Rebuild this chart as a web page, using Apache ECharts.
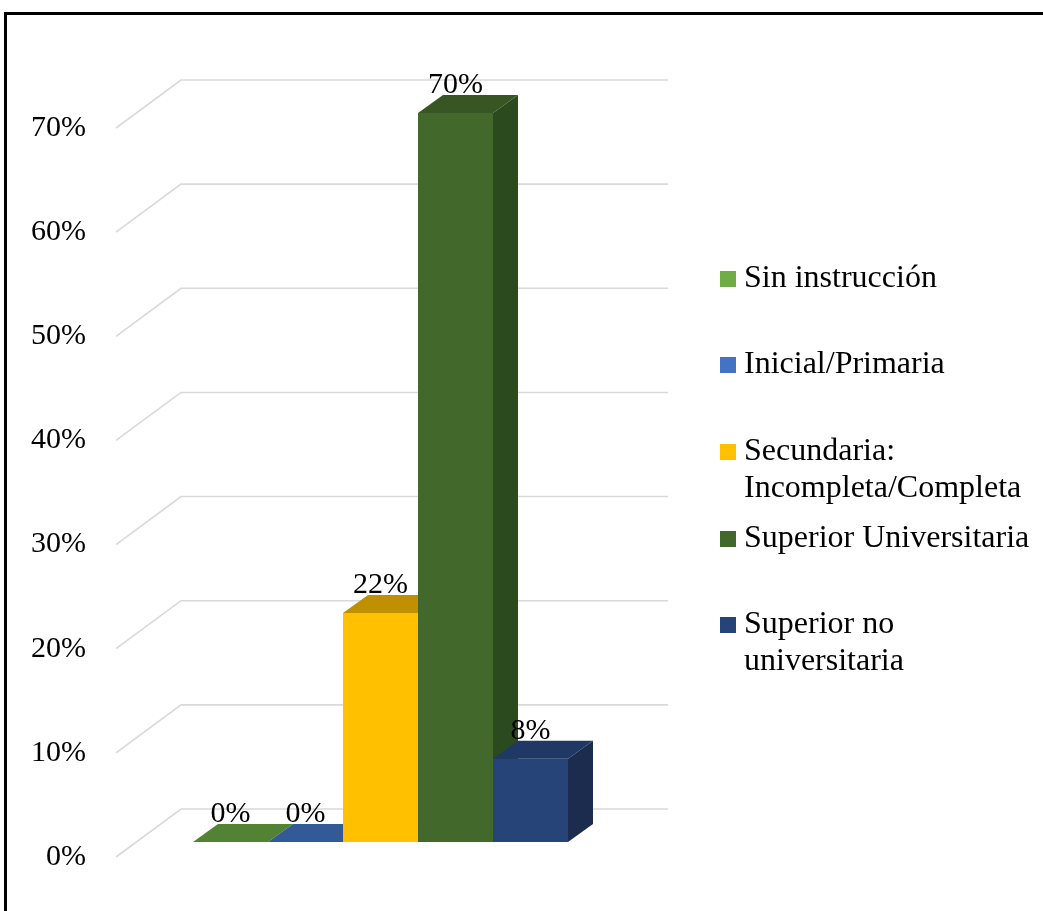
<!DOCTYPE html>
<html>
<head>
<meta charset="utf-8">
<script src="https://cdn.jsdelivr.net/npm/echarts@6/dist/echarts.min.js"></script>
<style>
  html, body { margin: 0; padding: 0; background: #fff; }
  #chart { width: 1043px; height: 911px; }
</style>
</head>
<body>
<div id="chart"></div>
<script>
// Nivel de instrucción: share of respondents per category
const categories = [
  'Sin instrucción',
  'Inicial/Primaria',
  'Secundaria:\nIncompleta/Completa',
  'Superior Universitaria',
  'Superior no\nuniversitaria'
];
const values = [0, 0, 0.22, 0.70, 0.08];
const gridTicks = [0, 0.1, 0.2, 0.3, 0.4, 0.5, 0.6, 0.7];

// Face shading for each 3D column: front, top, right side
const palette = [
  { front: '#70AD47', top: '#548235', side: '#4B7532' },
  { front: '#4472C4', top: '#335A96', side: '#2E5188' },
  { front: '#FFC000', top: '#BF9000', side: '#A67D00' },
  { front: '#43682B', top: '#375623', side: '#2B4A1D' },
  { front: '#264478', top: '#1F3864', side: '#1B2C4F' }
];

const FONT = "'Liberation Serif', 'Times New Roman', serif";
const DEPTH = [25, -18];        // column depth offset
const WALL_BACK = [-12, -33];   // back wall relative to the column front plane
const WALL_FRONT = [-77, 15];   // front edge of the side wall
const WALL_RIGHT = 475;         // right end of back-wall lines from plot left

const pct = v => Math.round(v * 100) + '%';

const chart = echarts.init(document.getElementById('chart'), null, { renderer: 'canvas' });

// Perspective gridlines: side-wall diagonal then back-wall horizontal
const gridSeries = {
  type: 'custom',
  name: '__grid',
  xAxisIndex: 0,
  yAxisIndex: 0,
  clip: false,
  silent: true,
  z: 1,
  data: gridTicks.map(v => [0, v]),
  renderItem: function (params, api) {
    const p = api.coord([0, api.value(1)]);
    const band = api.size([1, 0])[0];
    const xL = p[0] - band / 2;
    return {
      type: 'polyline',
      shape: {
        points: [
          [xL + WALL_FRONT[0], p[1] + WALL_FRONT[1]],
          [xL + WALL_BACK[0], p[1] + WALL_BACK[1]],
          [xL + WALL_RIGHT, p[1] + WALL_BACK[1]]
        ]
      },
      style: { stroke: '#D9D9D9', lineWidth: 1.6, fill: null }
    };
  }
};

const barSeries = categories.map((name, i) => ({
  type: 'custom',
  name: name,
  xAxisIndex: 0,
  yAxisIndex: 0,
  clip: false,
  z: 2,
  itemStyle: { color: palette[i].front },
  data: [[i, values[i]]],
  renderItem: function (params, api) {
    const c = palette[i];
    const idx = api.value(0);
    const v = api.value(1);
    const p0 = api.coord([idx, 0]);
    const p1 = api.coord([idx, v]);
    const band = api.size([1, 0])[0];
    const x0 = p0[0] - band / 2;
    const x1 = x0 + band;
    const yb = p0[1];
    const yt = p1[1];
    const dx = DEPTH[0], dy = DEPTH[1];
    return {
      type: 'group',
      children: [
        {
          type: 'polygon',
          shape: { points: [[x1, yt], [x1 + dx, yt + dy], [x1 + dx, yb + dy], [x1, yb]] },
          style: { fill: c.side }
        },
        {
          type: 'rect',
          shape: { x: x0, y: yt, width: band, height: yb - yt },
          style: { fill: c.front }
        },
        {
          type: 'polygon',
          shape: { points: [[x0, yt], [x1, yt], [x1 + dx, yt + dy], [x0 + dx, yt + dy]] },
          style: { fill: c.top }
        },
        {
          type: 'text',
          style: {
            text: pct(v),
            x: (x0 + x1) / 2,
            y: yt - 28,
            align: 'center',
            verticalAlign: 'middle',
            fill: '#000',
            font: '30px ' + FONT
          }
        }
      ]
    };
  }
}));

// One legend block per category so rows keep their own spacing.
// Two-line names get a leading blank line so the marker sits on the first line.
const legendTops = [260.5, 346.5, 396.5, 520.5, 569.5];
const legends = categories.map((name, i) => {
  const multi = name.indexOf('\n') >= 0;
  return {
    data: [name],
    left: 720,
    top: legendTops[i],
    padding: 0,
    icon: 'rect',
    itemWidth: 16,
    itemHeight: 16,
    itemGap: 0,
    selectedMode: false,
    formatter: n => (multi ? '\n' + n : n),
    textStyle: {
      fontFamily: FONT,
      fontSize: 32,
      lineHeight: 37,
      color: '#000',
      padding: [0, 0, 0, 3]
    }
  };
});

const option = {
  backgroundColor: '#fff',
  animation: false,
  graphic: [{
    type: 'rect',
    shape: { x: 5.5, y: 13.5, width: 1100, height: 1000 },
    style: { fill: null, stroke: '#000', lineWidth: 3 },
    z: 0
  }],
  legend: legends,
  grid: [
    { left: 193, top: 113, width: 375, height: 729 },
    { left: 116, top: 128, width: 10, height: 729 }
  ],
  xAxis: [
    { type: 'category', gridIndex: 0, data: categories, show: false, boundaryGap: true },
    { type: 'category', gridIndex: 1, data: [''], show: false }
  ],
  yAxis: [
    { type: 'value', gridIndex: 0, min: 0, max: 0.7, interval: 0.1, show: false },
    {
      type: 'value', gridIndex: 1, min: 0, max: 0.7, interval: 0.1,
      axisLine: { show: false },
      axisTick: { show: false },
      splitLine: { show: false },
      axisLabel: {
        margin: 30,
        formatter: pct,
        color: '#000',
        fontFamily: FONT,
        fontSize: 30
      }
    }
  ],
  series: [gridSeries].concat(barSeries)
};

chart.setOption(option);
</script>
</body>
</html>
